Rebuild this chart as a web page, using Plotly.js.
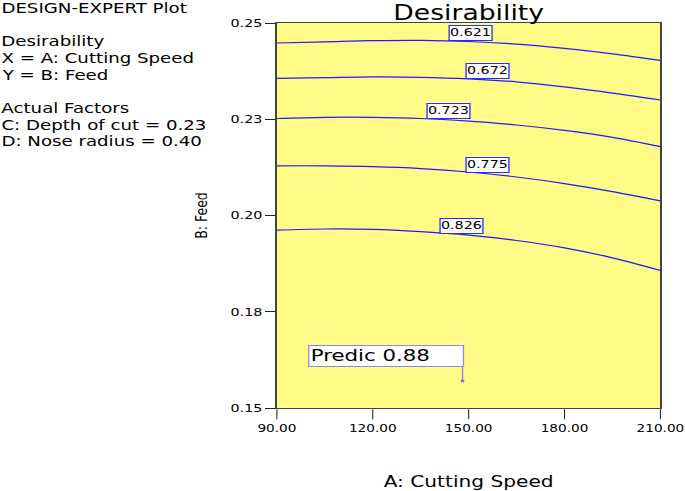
<!DOCTYPE html>
<html>
<head>
<meta charset="utf-8">
<script src="https://cdn.plot.ly/plotly-3.0.1.min.js"></script>
<style>
html,body{margin:0;padding:0;background:#fff;overflow:hidden;}
#wrap{width:685px;height:491px;overflow:hidden;}
#chart{width:530px;height:491px;transform-origin:0 0;}
</style>
</head>
<body>
<div id="wrap"><div id="chart"></div></div>
<script>
// ---- data ----
const cuttingSpeed = [90, 105, 120, 135, 150, 165, 180, 195, 210];
const contourLevels = ["0.621", "0.672", "0.723", "0.775", "0.826"];
const feed0621 = [0.2448, 0.2451, 0.2454, 0.2455, 0.2452, 0.2445, 0.2434, 0.2420, 0.2403];
const feed0672 = [0.2356, 0.2358, 0.2360, 0.2359, 0.2355, 0.2347, 0.2334, 0.2318, 0.2300];
const feed0723 = [0.2252, 0.2255, 0.2255, 0.2252, 0.2245, 0.2235, 0.2221, 0.2203, 0.2179];
const feed0775 = [0.2129, 0.2129, 0.2127, 0.2122, 0.2113, 0.2100, 0.2083, 0.2062, 0.2038];
const feed0826 = [0.1962, 0.1965, 0.1964, 0.1958, 0.1949, 0.1935, 0.1916, 0.1890, 0.1857];
const contourFeeds = [feed0621, feed0672, feed0723, feed0775, feed0826];
const labelSpeed = [150.6, 155.8, 143.75, 155.8, 147.8];
const labelFeed = [0.2474, 0.2375, 0.2271, 0.2132, 0.1973];
const predictSpeed = 148.1;
const predictFeed = 0.157;
const predictBoxFeed = [0.1610, 0.1636];
const predictText = "Predic 0.88";
const xTickVals = [90, 120, 150, 180, 210];
const xTickText = ["90.00", "120.00", "150.00", "180.00", "210.00"];
const yTickVals = [0.15, 0.175, 0.2, 0.225, 0.25];
const yTickText = ["0.15", "0.18", "0.20", "0.23", "0.25"];
const sideText = ["DESIGN-EXPERT Plot", "Desirability", "X = A: Cutting Speed", "Y = B: Feed",
                  "Actual Factors", "C: Depth of cut = 0.23", "D: Nose radius = 0.40"];

// ---- layout helpers (the reference is drawn horizontally stretched) ----
const W = 685, H = 491, S = 1.3, WU = 530;
document.getElementById("chart").style.transform = "scaleX(" + S + ")";
const PL = 277, PR = 661, PT = 23, PB = 408;          // plot frame in picture pixels
const xp = px => (px - PL) / (PR - PL);
const yp = py => (PB - py) / (PB - PT);
const sideY = [8.0, 41.3, 57.9, 74.5, 108.0, 124.6, 141.2];
const FONT = "DejaVu Sans, Liberation Sans, Arial, sans-serif";

const traces = contourFeeds.map((f, i) => ({
  x: cuttingSpeed, y: f, type: "scatter", mode: "lines",
  line: {color: "#1c1cff", width: 1.2, shape: "spline"},
  hoverinfo: "skip", showlegend: false, name: contourLevels[i]
}));
traces.push({
  x: [predictSpeed], y: [predictFeed], type: "scatter", mode: "markers",
  marker: {symbol: "square", size: 2.5, color: "#6a6aee"}, hoverinfo: "skip", showlegend: false
});

const annotations = [];
contourLevels.forEach((t, i) => annotations.push({
  x: labelSpeed[i], y: labelFeed[i], xref: "x", yref: "y", text: t, showarrow: false,
  xanchor: "center", yanchor: "middle", bgcolor: "#ffffff", bordercolor: "#2a2aff",
  borderwidth: 1, borderpad: 0, width: 44 / S - 2, height: 13.5,
  font: {family: FONT, size: 11, color: "#000"}
}));
sideText.forEach((t, i) => annotations.push({
  x: xp(0), y: yp(sideY[i]), xref: "paper", yref: "paper", text: t, showarrow: false,
  xanchor: "left", yanchor: "middle", borderpad: 0,
  font: {family: FONT, size: 14, color: "#000"}
}));
annotations.push({
  x: xp(307.7), y: predictBoxFeed[1], xref: "paper", yref: "y", text: predictText, showarrow: false,
  xanchor: "left", yanchor: "middle", align: "left", bgcolor: "#ffffff", bordercolor: "#8a8aee",
  borderwidth: 1, borderpad: 1, width: 155.6 / S - 4, height: 18,
  font: {family: FONT, size: 16.4, color: "#000"}
});

const layout = {
  width: WU, height: H,
  margin: {l: PL / S, r: WU - PR / S, t: PT, b: H - PB, pad: 0},
  paper_bgcolor: "#ffffff", plot_bgcolor: "#fffb86",
  title: {text: "Desirability", font: {family: FONT, size: 20.5, color: "#000"},
          x: 0.5, xref: "paper", xanchor: "center", y: 1 - 12.5 / H, yref: "container", yanchor: "middle",
          pad: {t: 0, b: 0}},
  xaxis: {range: [90, 210], tickvals: xTickVals, ticktext: xTickText, ticks: "outside", ticklen: 10,
          tickwidth: 0.8, tickcolor: "#222", showgrid: false, zeroline: false, showline: true, mirror: true,
          linecolor: "#444", linewidth: 1.3, ticklabeloverflow: "allow",
          tickfont: {family: FONT, size: 10.5, color: "#000"},
          title: {text: "A: Cutting Speed", font: {family: FONT, size: 15.5, color: "#000"}, standoff: 45}},
  yaxis: {range: [0.15, 0.25], tickvals: yTickVals, ticktext: yTickText, ticks: "outside", ticklen: 10 / S,
          tickwidth: 1, tickcolor: "#222", showgrid: false, zeroline: false, showline: true, mirror: true,
          linecolor: "#444", linewidth: 1.3, ticklabeloverflow: "allow",
          tickfont: {family: FONT, size: 11, color: "#000"},
          title: {text: "B: Feed", font: {family: FONT, size: 12.5, color: "#000"}, standoff: 14}},
  shapes: [{type: "line", xref: "x", yref: "y", x0: predictSpeed, x1: predictSpeed,
            y0: predictBoxFeed[0], y1: predictFeed, line: {color: "#8a8aee", width: 1}}],
  annotations: annotations,
  showlegend: false
};

Plotly.newPlot("chart", traces, layout, {displayModeBar: false, staticPlot: true});
</script>
</body>
</html>
